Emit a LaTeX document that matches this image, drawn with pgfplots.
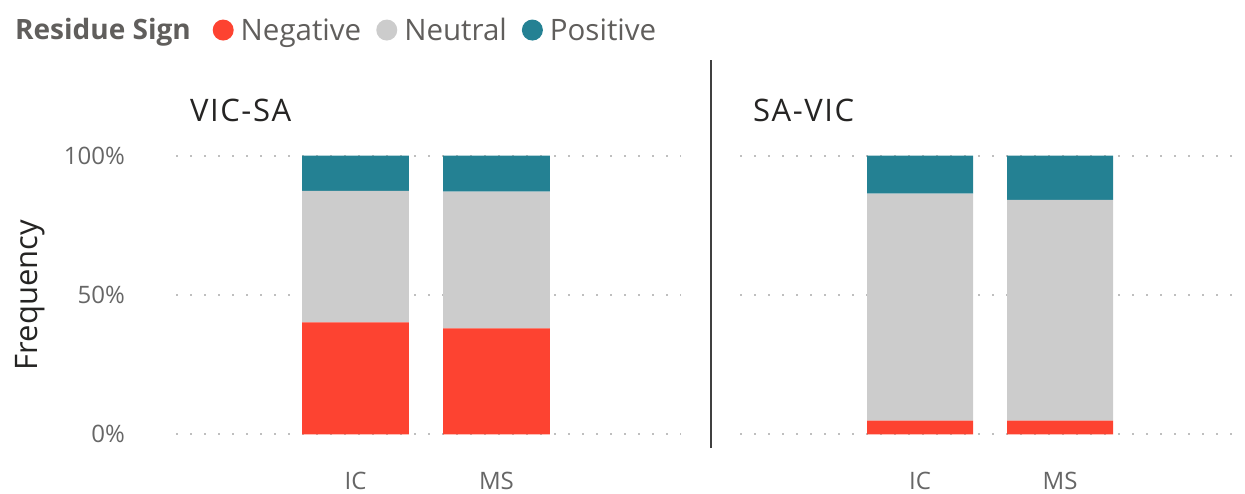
\documentclass[border=0pt]{standalone}
\usepackage{fontspec}
\setmainfont{Open Sans}
\usepackage{pgfplots}
\usepackage{pgfplotstable}
\pgfplotsset{compat=1.18}
\definecolor{negc}{HTML}{FD4331}
\definecolor{neuc}{HTML}{CCCCCC}
\definecolor{posc}{HTML}{248193}
\definecolor{txtgray}{HTML}{666666}
\definecolor{leggray}{HTML}{605E5C}
\definecolor{titc}{HTML}{252423}

\pgfplotstableread{
x neg neu pos
0 40.2 47.2 12.6
1 38.0 49.1 12.9
}\vicsa
\pgfplotstableread{
x neg neu pos
0 4.9 81.5 13.6
1 4.9 79.2 15.9
}\savic

\pgfplotsset{panel/.style={
  scale only axis, height=278.6pt, ymin=0, ymax=100,
  enlargelimits=false,
  ybar stacked, bar width=0.757,
  axis line style={draw=none}, major tick length=0pt, tick style={draw=none},
  ytick={0,50,100}, xtick={0,1}, xticklabels={IC,MS},
  ymajorgrids, grid style={color=black!25, line width=2pt, dash pattern=on 2pt off 12pt},
  ticklabel style={font=\fontsize{24}{28}\selectfont, text=txtgray, inner sep=0pt},
  xticklabel style={anchor=base, yshift=-55pt},
  yticklabel style={anchor=east, xshift=-51pt},
}}

\begin{document}
\begin{tikzpicture}[x=1pt,y=1pt]
\useasboundingbox (0,0) rectangle (1245,493);
\begin{axis}[panel, at={(176pt,58.7pt)}, anchor=south west, width=505pt,
  xmin=-1.273, xmax=2.309, yticklabels={0\%,50\%,100\%},
  legend columns=-1,
  legend style={at={(0.0723,1.451)}, anchor=west, draw=none, fill=none, inner sep=0pt,
    font=\fontsize{29.5}{32}\selectfont, text=leggray,
    nodes={inner xsep=0pt, inner ysep=0pt},
    /tikz/every odd column/.append style={column sep=7pt},
    /tikz/every even column/.append style={column sep=15pt}},
]
\addplot[fill=negc, draw=none, legend image code/.code={\fill[negc] (10.5pt,0pt) circle (10.5pt);}] table[x=x,y=neg]{\vicsa};
\addplot[fill=neuc, draw=none, legend image code/.code={\fill[neuc] (10.5pt,0pt) circle (10.5pt);}] table[x=x,y=neu]{\vicsa};
\addplot[fill=posc, draw=none, legend image code/.code={\fill[posc] (10.5pt,0pt) circle (10.5pt);}] table[x=x,y=pos]{\vicsa};
\legend{Negative,Neutral,Positive}
\end{axis}
\begin{axis}[panel, at={(740pt,58.7pt)}, anchor=south west, width=503pt,
  xmin=-1.286, xmax=2.307, yticklabels={}]
\addplot[fill=negc, draw=none] table[x=x,y=neg]{\savic};
\addplot[fill=neuc, draw=none] table[x=x,y=neu]{\savic};
\addplot[fill=posc, draw=none] table[x=x,y=pos]{\savic};
\end{axis}
\node[anchor=base west, inner sep=0pt, text=leggray, font=\fontsize{28}{32}\selectfont\bfseries] at (15,453) {Residue Sign};
\node[anchor=base west, inner sep=0pt, text=titc, font=\fontsize{31}{36}\selectfont\addfontfeature{LetterSpace=5}] at (190,371.3) {VIC-SA};
\node[anchor=base west, inner sep=0pt, text=titc, font=\fontsize{31}{36}\selectfont\addfontfeature{LetterSpace=5}] at (753,371.3) {SA-VIC};
\node[anchor=base, rotate=90, inner sep=0pt, text=titc, font=\fontsize{31}{34}\selectfont] at (37,198) {Frequency};
\draw[color=black!75, line width=2pt] (711,45) -- (711,433);
\end{tikzpicture}
\end{document}
